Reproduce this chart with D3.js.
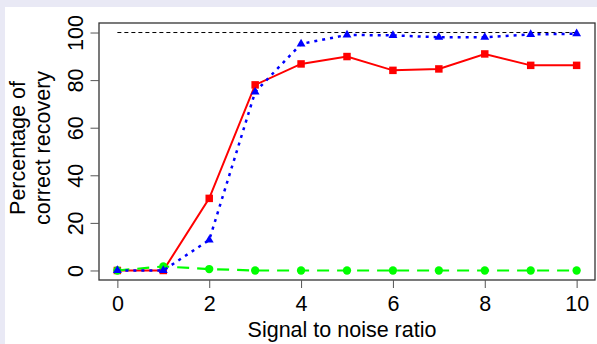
<!DOCTYPE html>
<html>
<head>
<meta charset="utf-8">
<script src="https://cdn.jsdelivr.net/npm/d3@7"></script>
<style>
  html, body { margin: 0; padding: 0; background: #e9e9f5; }
  svg { display: block; font-family: "Liberation Sans", Arial, sans-serif; }
</style>
</head>
<body>
<div id="chart"></div>
<script>
// values
let snr = [0, 1, 2, 3, 4, 5, 6, 7, 8, 9, 10];
let redSeries = [0, 0, 30.3, 78, 86.8, 89.9, 84.1, 84.7, 91, 86.2, 86.2];
let blueSeries = [0, 0, 12.8, 75, 95.2, 99, 98.8, 98, 98, 99.2, 99.5];
let greenSeries = [0, 1.7, 0.6, 0, 0, 0, 0, 0, 0, 0, 0];
let xTicks = [0, 2, 4, 6, 8, 10];
let yTicks = [0, 20, 40, 60, 80, 100];
let refLine = [100, 100];

let width = 597, height = 344;
let fs = 21.5;

let svg = d3.select("#chart").append("svg").attr("width", width).attr("height", height);

// white panel
svg.append("rect").attr("x", 5).attr("y", 7).attr("width", width - 5).attr("height", height - 7)
    .attr("fill", "#fff");

let x = d3.scaleLinear().domain([-0.4, 10.4]).range([99, 595]);
let y = d3.scaleLinear().domain([-4, 104]).range([280, 23]);

// reference line at 100
svg.append("line").attr("x1", x(0)).attr("x2", x(10)).attr("y1", y(refLine[0])).attr("y2", y(refLine[1]))
    .attr("stroke", "#000").attr("stroke-width", 1).attr("stroke-dasharray", "4,3");

let line = d3.line().x((d, i) => x(snr[i])).y(d => y(d));

function series(vals, color, dash, width, symbol, size) {
    let g = svg.append("g");
    g.append("path").datum(vals).attr("d", line).attr("fill", "none")
        .attr("stroke", color).attr("stroke-width", width)
        .attr("stroke-dasharray", dash);
    g.selectAll("path.pt").data(vals).enter().append("path").attr("class", "pt")
        .attr("transform", (d, i) => "translate(" + x(snr[i]) + "," + y(d) + ")")
        .attr("d", d3.symbol().type(symbol).size(size))
        .attr("fill", color);
}

series(redSeries, "#ff0000", null, 2, d3.symbolSquare, 56);
series(greenSeries, "#00ff00", "12,8", 2.2, d3.symbolCircle, 54);
series(blueSeries, "#0000ff", "3,5", 2.5, d3.symbolTriangle, 34);

// box
svg.append("rect").attr("x", x(-0.4)).attr("y", y(104))
    .attr("width", x(10.4) - x(-0.4)).attr("height", y(-4) - y(104))
    .attr("fill", "none").attr("stroke", "#333").attr("stroke-width", 1.3);

// axes
let xAxis = svg.append("g").attr("transform", "translate(0," + y(-4) + ")")
    .call(d3.axisBottom(x).tickValues(xTicks).tickSize(8).tickFormat(d3.format("d")));
xAxis.select(".domain").remove();
xAxis.selectAll("line").attr("stroke", "#555");
xAxis.selectAll("text").attr("y", 31).attr("dy", 0).attr("font-size", fs)
    .attr("font-family", "Liberation Sans, Arial, sans-serif").attr("fill", "#000");

let yAxis = svg.append("g").attr("transform", "translate(" + x(-0.4) + ",0)")
    .call(d3.axisLeft(y).tickValues(yTicks).tickSize(8.5).tickFormat(d3.format("d")));
yAxis.select(".domain").remove();
yAxis.selectAll("line").attr("stroke", "#555");
yAxis.selectAll("text").attr("x", 0).attr("dy", 0).attr("text-anchor", "middle")
    .attr("transform", "translate(-16,0) rotate(-90)").attr("font-size", fs)
    .attr("font-family", "Liberation Sans, Arial, sans-serif").attr("fill", "#000");

// titles
svg.append("text").attr("x", 342).attr("y", 337).attr("text-anchor", "middle")
    .attr("font-size", fs).text("Signal to noise ratio");

svg.append("text").attr("transform", "translate(25,148) rotate(-90)").attr("text-anchor", "middle")
    .attr("font-size", fs).text("Percentage of");
svg.append("text").attr("transform", "translate(50,148) rotate(-90)").attr("text-anchor", "middle")
    .attr("font-size", fs).text("correct recovery");
</script>
</body>
</html>
